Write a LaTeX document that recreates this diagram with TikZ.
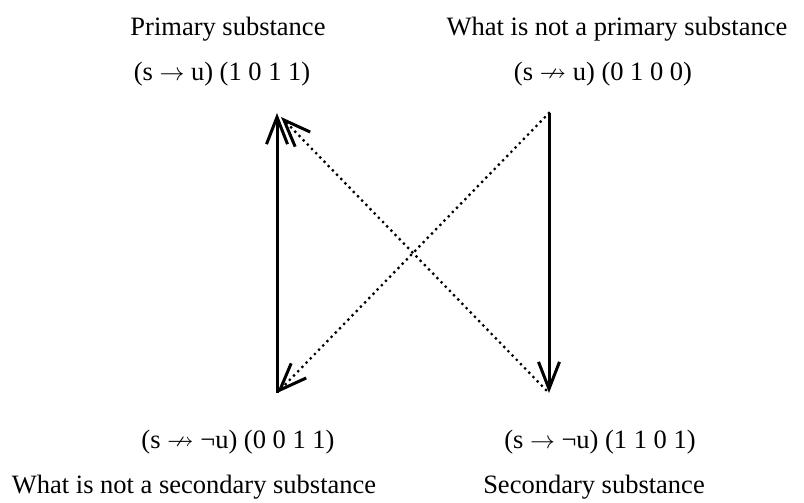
\documentclass[tikz,border=0pt]{standalone}
\usepackage{amssymb}
\usepackage{fontspec}
\setmainfont{Liberation Serif}
\usetikzlibrary{arrows.meta}
\begin{document}
\begin{tikzpicture}[x=1pt,y=-1pt,
  lbl/.style={inner sep=0pt,font=\fontsize{26.5}{32}\selectfont,anchor=base},
  tip/.style={-{Straight Barb[length=27pt,width=21pt,line width=3pt]}},
  solidarr/.style={line width=3pt,tip},
  dotarr/.style={line width=3.2pt,line cap=round,dash pattern=on 0pt off 6pt,tip}]
\useasboundingbox (0,0) rectangle (804,503);
\coordinate (TL) at (277,113);
\coordinate (TR) at (549,113);
\coordinate (BL) at (277,393);
\coordinate (BR) at (549,393);
\coordinate (TLd) at (281,117);
\coordinate (BRd) at (546,390);
\node[lbl] (t1) at (228,36) {Primary substance};
\node[lbl] (f1) at (222,81) {(s $\rightarrow$ u) (1 0 1 1)};
\node[lbl] (t2) at (617,36) {What is not a primary substance};
\node[lbl] (f2) at (603,81) {(s $\nrightarrow$ u) (0 1 0 0)};
\node[lbl] (f3) at (238,448) {(s $\nrightarrow$ ¬u) (0 0 1 1)};
\node[lbl] (f4) at (600,448) {(s $\rightarrow$ ¬u) (1 1 0 1)};
\node[lbl] (t3) at (194,493) {What is not a secondary substance};
\node[lbl] (t4) at (594,493) {Secondary substance};
\draw[solidarr] (BL) -- (TL);
\draw[solidarr] (TR) -- (BR);
\draw[dotarr] (TR) -- (BL);
\draw[dotarr] (BRd) -- (TLd);
\end{tikzpicture}
\end{document}
